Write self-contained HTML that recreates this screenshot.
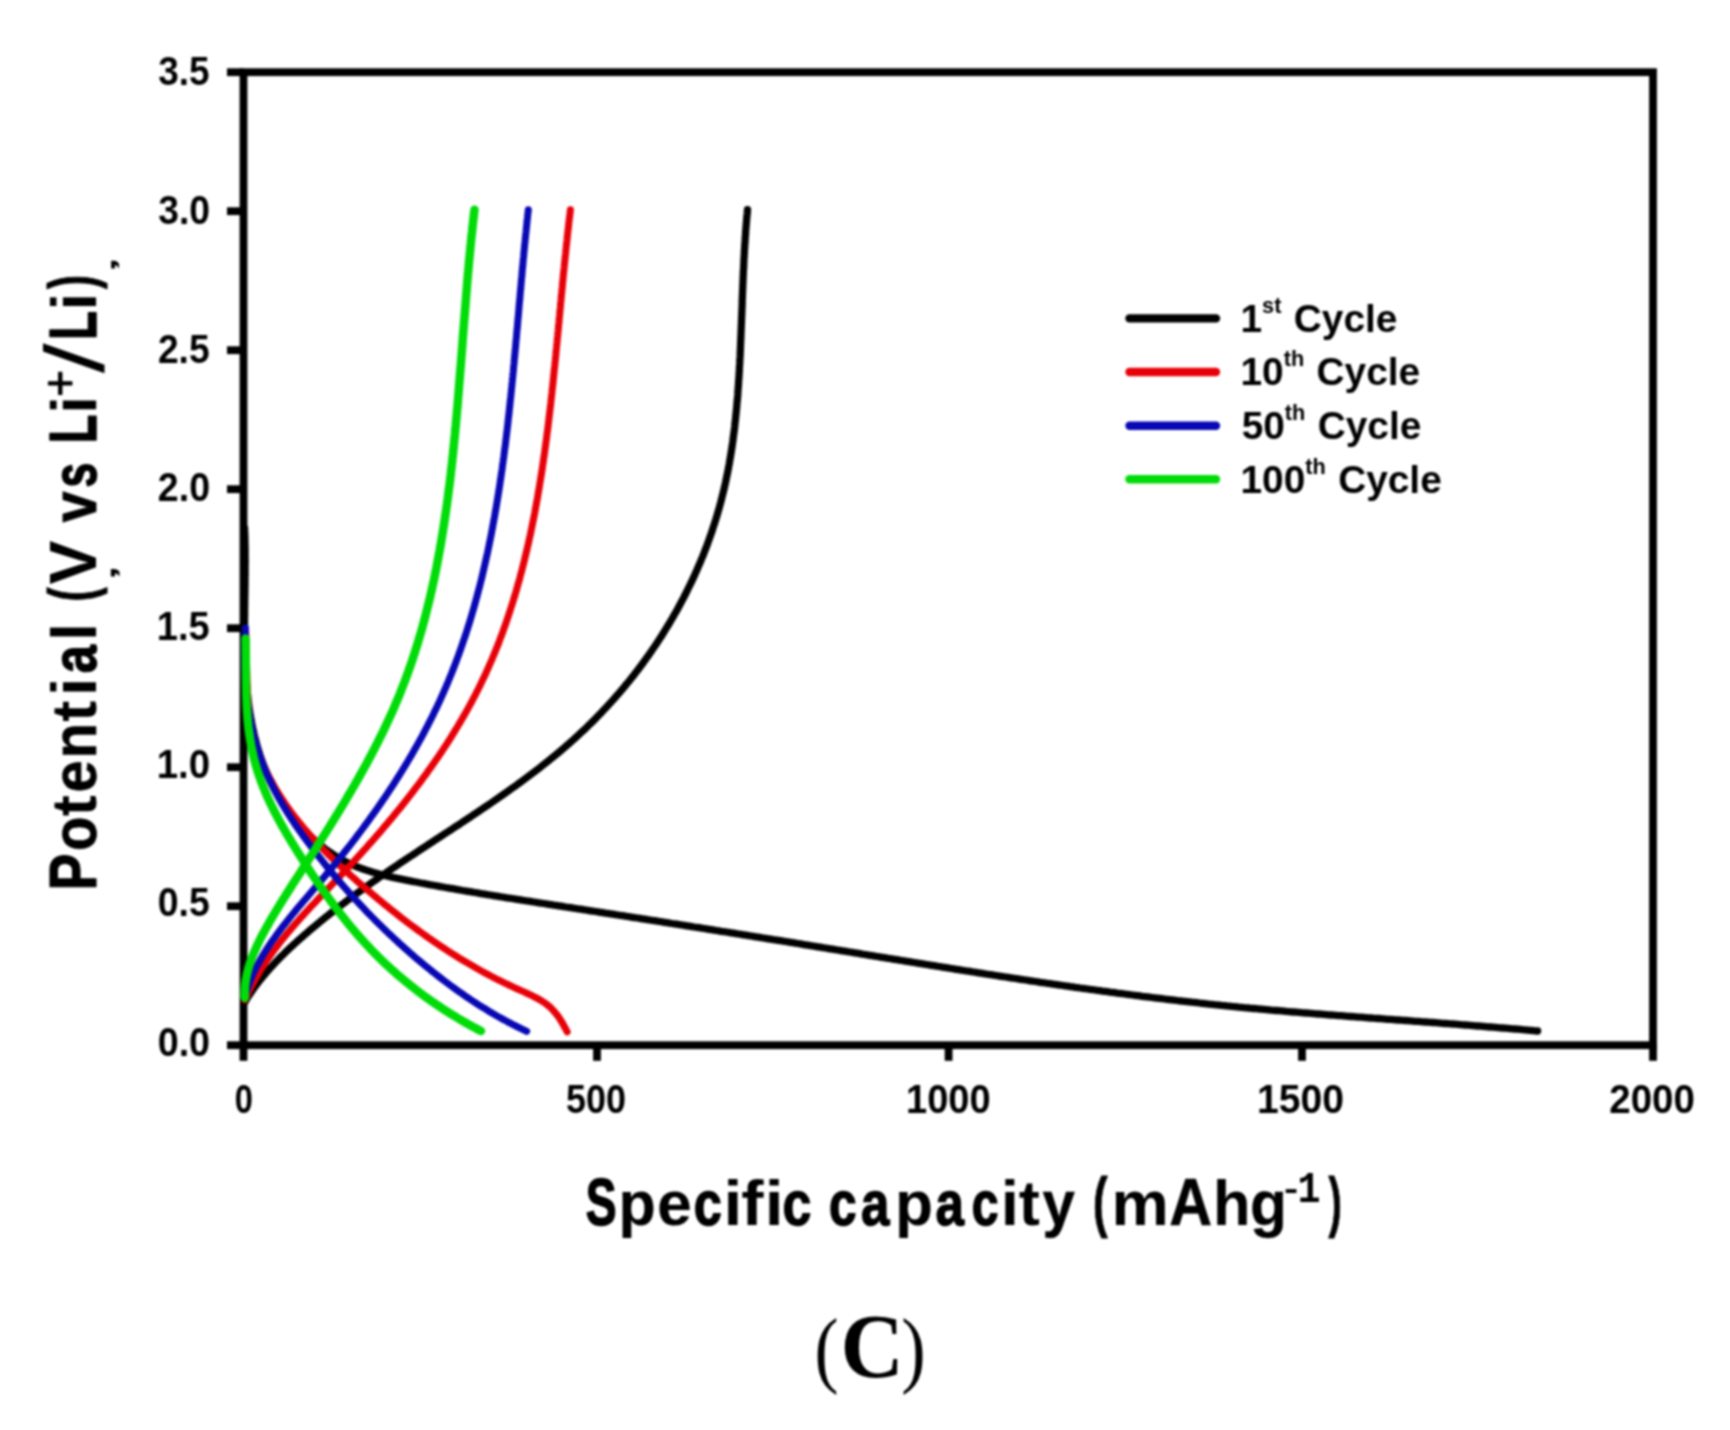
<!DOCTYPE html>
<html lang="en"><head><meta charset="utf-8"><title>Charge-discharge profiles (C)</title>
<style>html,body{margin:0;padding:0;background:#fff}body{width:1730px;height:1430px;overflow:hidden}svg{display:block}</style>
</head><body>
<svg width="1730" height="1430" viewBox="0 0 1730 1430">
<defs><filter id="soft" x="0" y="0" width="1730" height="1430" filterUnits="userSpaceOnUse" color-interpolation-filters="sRGB"><feGaussianBlur stdDeviation="0.8"/></filter></defs>
<rect width="1730" height="1430" fill="#fff"/>
<g filter="url(#soft)">
<rect width="1730" height="1430" fill="#fff"/>
<rect x="243.5" y="72.2" width="1409.5" height="973.0" fill="none" stroke="#000" stroke-width="7.8"/>
<line x1="227.0" y1="1045.2" x2="243.5" y2="1045.2" stroke="#000" stroke-width="7.8"/>
<line x1="227.0" y1="906.2" x2="243.5" y2="906.2" stroke="#000" stroke-width="7.8"/>
<line x1="227.0" y1="767.2" x2="243.5" y2="767.2" stroke="#000" stroke-width="7.8"/>
<line x1="227.0" y1="628.2" x2="243.5" y2="628.2" stroke="#000" stroke-width="7.8"/>
<line x1="227.0" y1="489.2" x2="243.5" y2="489.2" stroke="#000" stroke-width="7.8"/>
<line x1="227.0" y1="350.2" x2="243.5" y2="350.2" stroke="#000" stroke-width="7.8"/>
<line x1="227.0" y1="211.2" x2="243.5" y2="211.2" stroke="#000" stroke-width="7.8"/>
<line x1="227.0" y1="72.2" x2="243.5" y2="72.2" stroke="#000" stroke-width="7.8"/>
<line x1="243.5" y1="1045.2" x2="243.5" y2="1060.8" stroke="#000" stroke-width="7.8"/>
<line x1="597.0" y1="1045.2" x2="597.0" y2="1060.8" stroke="#000" stroke-width="7.8"/>
<line x1="948.6" y1="1045.2" x2="948.6" y2="1060.8" stroke="#000" stroke-width="7.8"/>
<line x1="1302.0" y1="1045.2" x2="1302.0" y2="1060.8" stroke="#000" stroke-width="7.8"/>
<line x1="1653.0" y1="1045.2" x2="1653.0" y2="1060.8" stroke="#000" stroke-width="7.8"/>
<g>
<polyline points="244.5,528.0 244.6,530.5 244.7,532.9 244.8,535.4 244.9,537.8 244.9,540.3 245.0,542.8 245.0,545.2 245.1,547.7 245.1,550.2 245.1,552.7 245.1,555.2 245.1,557.6 245.2,560.1 245.2,562.6 245.1,565.1 245.1,567.6 245.1,570.1 245.1,572.6 245.1,575.1 245.0,577.6 245.0,580.1 245.0,582.6 245.0,585.2 244.9,587.7 244.9,590.2 244.9,592.7 244.8,595.2 244.8,597.7 244.7,600.2 244.7,602.8 244.7,605.3 244.6,607.8 244.6,610.3 244.6,612.8 244.6,615.4 244.5,617.9 244.5,620.4 244.5,622.9 244.5,625.5 244.5,628.0 244.5,630.5 244.5,633.0 244.5,635.5 244.5,638.1 244.6,640.6 244.6,643.1 244.6,645.6 244.7,648.1 244.7,650.6 244.8,653.2 244.9,655.7 244.9,658.2 245.0,660.7 245.1,663.2 245.2,665.7 245.4,668.2 245.5,670.7 245.6,673.2 245.8,675.7 246.0,678.2 246.2,680.7 246.4,683.2 246.6,685.7 246.8,688.2 247.0,690.7 247.3,693.2 247.6,695.6 247.8,698.1 248.1,700.6 248.5,703.1 248.8,705.5 249.1,708.0 249.5,710.4 249.9,712.9 250.3,715.4 250.7,717.8 251.2,720.2 251.6,722.7 252.1,725.1 252.6,727.6 253.1,730.0 253.7,732.4 254.2,734.8 254.8,737.2 255.4,739.6 256.1,742.0 256.7,744.4 257.4,746.8 258.1,749.2 258.8,751.5 259.6,753.9 260.3,756.3 261.1,758.6 262.0,760.9 262.8,763.3 263.7,765.6 264.6,767.9 265.5,770.2 266.5,772.5 267.5,774.8 268.5,777.0 269.5,779.3 270.6,781.5 271.7,783.8 272.8,786.0 274.0,788.2 275.2,790.4 276.4,792.6 277.7,794.7 279.0,796.9 280.3,799.0 281.6,801.1 283.0,803.2 284.4,805.3 285.8,807.4 287.3,809.5 288.7,811.5 290.3,813.5 291.8,815.5 293.4,817.5 294.9,819.5 296.6,821.4 298.2,823.4 299.9,825.3 301.6,827.1 303.3,829.0 305.0,830.8 306.8,832.6 308.6,834.4 310.4,836.2 312.3,837.9 314.1,839.6 316.0,841.3 317.9,843.0 319.9,844.6 321.8,846.2 323.8,847.8 325.8,849.3 327.8,850.8 329.9,852.2 331.9,853.6 334.0,855.0 336.1,856.3 338.2,857.6 340.4,858.9 342.6,860.1 344.7,861.2 347.0,862.3 349.2,863.4 351.4,864.4 353.7,865.4 355.9,866.4 358.2,867.3 360.5,868.1 362.8,869.0 365.2,869.8 367.5,870.6 369.9,871.3 372.2,872.1 374.6,872.8 377.0,873.4 379.4,874.1 381.8,874.7 384.2,875.3 386.6,875.9 389.0,876.5 391.5,877.1 393.9,877.6 396.3,878.1 398.8,878.6 401.2,879.1 403.7,879.6 406.1,880.1 408.6,880.6 411.0,881.1 413.5,881.6 416.0,882.0 418.4,882.5 420.9,883.0 423.3,883.4 425.8,883.9 428.2,884.3 430.7,884.8 433.2,885.2 435.6,885.7 438.1,886.1 440.5,886.6 443.0,887.0 445.4,887.5 447.9,887.9 450.4,888.3 452.8,888.7 455.3,889.2 457.7,889.6 460.2,890.0 462.6,890.5 465.1,890.9 467.6,891.3 470.0,891.7 472.5,892.1 474.9,892.5 477.4,892.9 479.9,893.4 482.3,893.8 484.8,894.2 487.2,894.6 489.7,895.0 492.2,895.4 494.6,895.8 497.1,896.2 499.5,896.6 502.0,897.0 504.5,897.4 506.9,897.8 509.4,898.1 511.8,898.5 514.3,898.9 516.8,899.3 519.2,899.7 521.7,900.1 524.1,900.5 526.6,900.9 529.1,901.2 531.5,901.6 534.0,902.0 536.4,902.4 538.9,902.8 541.4,903.2 543.8,903.5 546.3,903.9 548.8,904.3 551.2,904.7 553.7,905.1 556.1,905.4 558.6,905.8 561.1,906.2 563.5,906.6 566.0,907.0 568.5,907.3 570.9,907.7 573.4,908.1 575.8,908.5 578.3,908.9 580.8,909.2 583.2,909.6 585.7,910.0 588.2,910.4 590.6,910.8 593.1,911.2 595.5,911.5 598.0,911.9 600.5,912.3 602.9,912.7 605.4,913.1 607.9,913.4 610.3,913.8 612.8,914.2 615.3,914.6 617.7,915.0 620.2,915.4 622.7,915.7 625.1,916.1 627.6,916.5 630.0,916.9 632.5,917.3 635.0,917.7 637.4,918.0 639.9,918.4 642.4,918.8 644.8,919.2 647.3,919.6 649.8,920.0 652.2,920.4 654.7,920.7 657.2,921.1 659.6,921.5 662.1,921.9 664.6,922.3 667.0,922.7 669.5,923.1 672.0,923.5 674.4,923.8 676.9,924.2 679.4,924.6 681.8,925.0 684.3,925.4 686.8,925.8 689.2,926.2 691.7,926.6 694.2,927.0 696.6,927.3 699.1,927.7 701.6,928.1 704.0,928.5 706.5,928.9 709.0,929.3 711.4,929.7 713.9,930.1 716.4,930.5 718.8,930.9 721.3,931.3 723.8,931.6 726.3,932.0 728.7,932.4 731.2,932.8 733.7,933.2 736.1,933.6 738.6,934.0 741.1,934.4 743.5,934.8 746.0,935.2 748.5,935.6 750.9,936.0 753.4,936.4 755.9,936.8 758.4,937.2 760.8,937.6 763.3,938.0 765.8,938.4 768.2,938.8 770.7,939.2 773.2,939.6 775.6,939.9 778.1,940.3 780.6,940.7 783.1,941.1 785.5,941.5 788.0,941.9 790.5,942.3 792.9,942.7 795.4,943.1 797.9,943.5 800.4,943.9 802.8,944.4 805.3,944.8 807.8,945.2 810.2,945.6 812.7,946.0 815.2,946.4 817.7,946.8 820.1,947.2 822.6,947.6 825.1,948.0 827.5,948.4 830.0,948.8 832.5,949.2 835.0,949.6 837.4,950.0 839.9,950.4 842.4,950.8 844.8,951.2 847.3,951.6 849.8,952.0 852.3,952.4 854.7,952.8 857.2,953.2 859.7,953.6 862.2,954.1 864.6,954.5 867.1,954.9 869.6,955.3 872.1,955.7 874.5,956.1 877.0,956.5 879.5,956.9 881.9,957.3 884.4,957.7 886.9,958.1 889.4,958.5 891.8,958.9 894.3,959.3 896.8,959.7 899.3,960.1 901.7,960.5 904.2,960.9 906.7,961.3 909.2,961.7 911.6,962.1 914.1,962.5 916.6,962.9 919.1,963.3 921.5,963.7 924.0,964.1 926.5,964.5 929.0,964.9 931.4,965.3 933.9,965.7 936.4,966.1 938.9,966.5 941.3,966.9 943.8,967.3 946.3,967.7 948.8,968.1 951.3,968.5 953.7,968.9 956.2,969.3 958.7,969.7 961.2,970.1 963.6,970.5 966.1,970.9 968.6,971.2 971.1,971.6 973.5,972.0 976.0,972.4 978.5,972.8 981.0,973.2 983.5,973.6 985.9,974.0 988.4,974.4 990.9,974.7 993.4,975.1 995.8,975.5 998.3,975.9 1000.8,976.3 1003.3,976.7 1005.8,977.0 1008.2,977.4 1010.7,977.8 1013.2,978.2 1015.7,978.5 1018.1,978.9 1020.6,979.3 1023.1,979.7 1025.6,980.0 1028.1,980.4 1030.5,980.8 1033.0,981.2 1035.5,981.5 1038.0,981.9 1040.5,982.3 1042.9,982.6 1045.4,983.0 1047.9,983.4 1050.4,983.7 1052.8,984.1 1055.3,984.4 1057.8,984.8 1060.3,985.2 1062.8,985.5 1065.2,985.9 1067.7,986.2 1070.2,986.6 1072.7,986.9 1075.2,987.3 1077.6,987.6 1080.1,988.0 1082.6,988.3 1085.1,988.7 1087.6,989.0 1090.0,989.4 1092.5,989.7 1095.0,990.0 1097.5,990.4 1100.0,990.7 1102.5,991.1 1104.9,991.4 1107.4,991.7 1109.9,992.1 1112.4,992.4 1114.9,992.7 1117.3,993.1 1119.8,993.4 1122.3,993.7 1124.8,994.0 1127.3,994.3 1129.7,994.7 1132.2,995.0 1134.7,995.3 1137.2,995.6 1139.7,995.9 1142.2,996.3 1144.6,996.6 1147.1,996.9 1149.6,997.2 1152.1,997.5 1154.6,997.8 1157.1,998.1 1159.5,998.4 1162.0,998.7 1164.5,999.0 1167.0,999.3 1169.5,999.6 1172.0,999.9 1174.4,1000.2 1176.9,1000.5 1179.4,1000.8 1181.9,1001.0 1184.4,1001.3 1186.9,1001.6 1189.3,1001.9 1191.8,1002.2 1194.3,1002.4 1196.8,1002.7 1199.3,1003.0 1201.8,1003.3 1204.2,1003.5 1206.7,1003.8 1209.2,1004.1 1211.7,1004.3 1214.2,1004.6 1216.7,1004.8 1219.1,1005.1 1221.6,1005.4 1224.1,1005.6 1226.6,1005.9 1229.1,1006.1 1231.6,1006.4 1234.0,1006.6 1236.5,1006.8 1239.0,1007.1 1241.5,1007.3 1244.0,1007.6 1246.5,1007.8 1249.0,1008.0 1251.4,1008.3 1253.9,1008.5 1256.4,1008.7 1258.9,1009.0 1261.4,1009.2 1263.9,1009.4 1266.4,1009.6 1268.8,1009.8 1271.3,1010.1 1273.8,1010.3 1276.3,1010.5 1278.8,1010.7 1281.3,1010.9 1283.8,1011.1 1286.2,1011.4 1288.7,1011.6 1291.2,1011.8 1293.7,1012.0 1296.2,1012.2 1298.7,1012.4 1301.2,1012.6 1303.7,1012.8 1306.1,1013.0 1308.6,1013.2 1311.1,1013.4 1313.6,1013.6 1316.1,1013.8 1318.6,1014.0 1321.1,1014.2 1323.5,1014.4 1326.0,1014.6 1328.5,1014.8 1331.0,1015.0 1333.5,1015.2 1336.0,1015.4 1338.5,1015.6 1341.0,1015.7 1343.4,1015.9 1345.9,1016.1 1348.4,1016.3 1350.9,1016.5 1353.4,1016.7 1355.9,1016.9 1358.4,1017.1 1360.9,1017.2 1363.4,1017.4 1365.8,1017.6 1368.3,1017.8 1370.8,1018.0 1373.3,1018.2 1375.8,1018.3 1378.3,1018.5 1380.8,1018.7 1383.3,1018.9 1385.7,1019.1 1388.2,1019.3 1390.7,1019.4 1393.2,1019.6 1395.7,1019.8 1398.2,1020.0 1400.7,1020.2 1403.2,1020.4 1405.7,1020.5 1408.2,1020.7 1410.6,1020.9 1413.1,1021.1 1415.6,1021.3 1418.1,1021.4 1420.6,1021.6 1423.1,1021.8 1425.6,1022.0 1428.1,1022.2 1430.6,1022.4 1433.0,1022.5 1435.5,1022.7 1438.0,1022.9 1440.5,1023.1 1443.0,1023.3 1445.5,1023.5 1448.0,1023.7 1450.5,1023.9 1453.0,1024.0 1455.5,1024.2 1458.0,1024.4 1460.4,1024.6 1462.9,1024.8 1465.4,1025.0 1467.9,1025.2 1470.4,1025.4 1472.9,1025.6 1475.4,1025.8 1477.9,1026.0 1480.4,1026.2 1482.9,1026.4 1485.4,1026.6 1487.8,1026.8 1490.3,1027.0 1492.8,1027.2 1495.3,1027.4 1497.8,1027.6 1500.3,1027.8 1502.8,1028.0 1505.3,1028.2 1507.8,1028.4 1510.3,1028.6 1512.8,1028.8 1515.3,1029.0 1517.7,1029.2 1520.2,1029.4 1522.7,1029.7 1525.2,1029.9 1527.7,1030.1 1530.2,1030.3 1532.7,1030.5 1535.2,1030.8 1537.6,1031.0" fill="none" stroke="#000" stroke-width="7.3" stroke-linecap="round" stroke-linejoin="round"/>
<polyline points="245.0,1001.9 246.2,999.9 247.4,997.8 248.7,995.8 250.0,993.9 251.3,991.9 252.7,989.9 254.1,987.9 255.5,986.0 257.0,984.1 258.4,982.2 259.9,980.2 261.5,978.3 263.0,976.5 264.6,974.6 266.2,972.7 267.8,970.9 269.4,969.0 271.0,967.2 272.7,965.4 274.4,963.6 276.1,961.8 277.8,960.0 279.5,958.2 281.3,956.4 283.1,954.7 284.8,952.9 286.6,951.2 288.4,949.5 290.2,947.7 292.1,946.0 293.9,944.3 295.8,942.6 297.6,941.0 299.5,939.3 301.4,937.6 303.3,936.0 305.2,934.3 307.1,932.7 309.0,931.0 310.9,929.4 312.8,927.8 314.8,926.2 316.7,924.6 318.6,923.0 320.6,921.4 322.5,919.8 324.5,918.2 326.4,916.7 328.4,915.1 330.3,913.5 332.3,912.0 334.3,910.5 336.3,908.9 338.2,907.4 340.2,905.9 342.2,904.4 344.2,902.9 346.2,901.3 348.2,899.8 350.2,898.4 352.2,896.9 354.2,895.4 356.2,893.9 358.2,892.4 360.2,891.0 362.3,889.5 364.3,888.0 366.3,886.6 368.4,885.1 370.4,883.7 372.4,882.2 374.5,880.8 376.5,879.4 378.6,877.9 380.6,876.5 382.7,875.1 384.7,873.7 386.8,872.3 388.9,870.8 390.9,869.4 393.0,868.0 395.1,866.6 397.2,865.2 399.2,863.8 401.3,862.4 403.4,861.0 405.5,859.6 407.6,858.2 409.7,856.8 411.8,855.5 413.9,854.1 416.0,852.7 418.1,851.3 420.2,849.9 422.3,848.5 424.4,847.1 426.5,845.8 428.6,844.4 430.7,843.0 432.8,841.6 434.9,840.2 437.0,838.9 439.1,837.5 441.2,836.1 443.3,834.7 445.4,833.3 447.5,832.0 449.7,830.6 451.8,829.2 453.9,827.8 456.0,826.4 458.1,825.1 460.2,823.7 462.3,822.3 464.4,820.9 466.5,819.5 468.6,818.1 470.7,816.7 472.8,815.3 474.9,813.9 477.0,812.5 479.1,811.1 481.1,809.7 483.2,808.3 485.3,806.9 487.4,805.5 489.5,804.1 491.6,802.6 493.6,801.2 495.7,799.8 497.8,798.4 499.8,796.9 501.9,795.5 503.9,794.0 506.0,792.6 508.0,791.1 510.1,789.7 512.1,788.2 514.2,786.8 516.2,785.3 518.2,783.8 520.3,782.4 522.3,780.9 524.3,779.4 526.3,777.9 528.3,776.4 530.3,774.9 532.3,773.4 534.3,771.9 536.3,770.3 538.3,768.8 540.3,767.3 542.2,765.7 544.2,764.2 546.1,762.6 548.1,761.1 550.0,759.5 552.0,757.9 553.9,756.4 555.8,754.8 557.8,753.2 559.7,751.6 561.6,750.0 563.5,748.4 565.4,746.7 567.2,745.1 569.1,743.5 571.0,741.8 572.9,740.1 574.7,738.5 576.5,736.8 578.4,735.1 580.2,733.4 582.0,731.7 583.9,730.0 585.7,728.3 587.5,726.6 589.2,724.8 591.0,723.1 592.8,721.3 594.5,719.6 596.3,717.8 598.0,716.0 599.8,714.2 601.5,712.4 603.2,710.6 604.9,708.8 606.6,707.0 608.3,705.1 610.0,703.3 611.7,701.4 613.3,699.6 615.0,697.7 616.6,695.8 618.3,694.0 619.9,692.1 621.5,690.2 623.1,688.3 624.7,686.4 626.3,684.4 627.9,682.5 629.5,680.6 631.0,678.6 632.6,676.7 634.1,674.7 635.6,672.7 637.2,670.8 638.7,668.8 640.2,666.8 641.7,664.8 643.1,662.8 644.6,660.8 646.1,658.7 647.5,656.7 649.0,654.7 650.4,652.6 651.8,650.6 653.2,648.5 654.6,646.5 656.0,644.4 657.4,642.3 658.8,640.2 660.1,638.1 661.5,636.1 662.8,633.9 664.1,631.8 665.4,629.7 666.7,627.6 668.0,625.5 669.3,623.3 670.6,621.2 671.9,619.0 673.1,616.9 674.3,614.7 675.6,612.6 676.8,610.4 678.0,608.2 679.2,606.0 680.4,603.8 681.5,601.6 682.7,599.4 683.9,597.2 685.0,595.0 686.1,592.8 687.2,590.6 688.3,588.3 689.4,586.1 690.5,583.9 691.6,581.6 692.6,579.4 693.7,577.1 694.7,574.9 695.7,572.6 696.8,570.3 697.7,568.0 698.7,565.8 699.7,563.5 700.7,561.2 701.6,558.9 702.6,556.6 703.5,554.3 704.4,552.0 705.3,549.6 706.2,547.3 707.1,545.0 707.9,542.7 708.8,540.3 709.6,538.0 710.4,535.7 711.3,533.3 712.1,531.0 712.8,528.6 713.6,526.2 714.4,523.9 715.1,521.5 715.9,519.1 716.6,516.8 717.3,514.4 718.0,512.0 718.7,509.6 719.4,507.2 720.0,504.8 720.7,502.4 721.3,500.0 721.9,497.6 722.5,495.2 723.1,492.8 723.7,490.4 724.3,488.0 724.8,485.6 725.4,483.1 725.9,480.7 726.4,478.3 726.9,475.8 727.4,473.4 727.9,471.0 728.4,468.5 728.8,466.1 729.3,463.6 729.7,461.2 730.1,458.7 730.5,456.3 730.9,453.8 731.3,451.4 731.7,448.9 732.1,446.4 732.4,444.0 732.8,441.5 733.1,439.0 733.4,436.5 733.7,434.1 734.1,431.6 734.4,429.1 734.7,426.6 734.9,424.1 735.2,421.6 735.5,419.2 735.7,416.7 736.0,414.2 736.2,411.7 736.5,409.2 736.7,406.7 736.9,404.2 737.1,401.7 737.4,399.2 737.6,396.7 737.8,394.2 737.9,391.7 738.1,389.2 738.3,386.6 738.5,384.1 738.6,381.6 738.8,379.1 739.0,376.6 739.1,374.1 739.3,371.6 739.4,369.1 739.5,366.5 739.7,364.0 739.8,361.5 739.9,359.0 740.1,356.5 740.2,353.9 740.3,351.4 740.4,348.9 740.5,346.4 740.6,343.9 740.7,341.3 740.8,338.8 740.9,336.3 741.0,333.8 741.1,331.3 741.2,328.7 741.3,326.2 741.4,323.7 741.5,321.2 741.6,318.6 741.7,316.1 741.8,313.6 741.9,311.1 742.0,308.6 742.1,306.0 742.2,303.5 742.2,301.0 742.3,298.5 742.4,296.0 742.5,293.5 742.6,290.9 742.7,288.4 742.8,285.9 742.9,283.4 743.0,280.9 743.1,278.4 743.2,275.9 743.3,273.4 743.4,270.9 743.6,268.4 743.7,265.8 743.8,263.3 743.9,260.8 744.0,258.3 744.2,255.8 744.3,253.3 744.4,250.8 744.6,248.4 744.7,245.9 744.9,243.4 745.1,240.9 745.2,238.4 745.4,235.9 745.6,233.4 745.7,230.9 745.9,228.5 746.1,226.0 746.3,223.5 746.5,221.0 746.7,218.6 746.9,216.1 747.2,213.6 747.4,211.2 747.5,209.7" fill="none" stroke="#000" stroke-width="7.3" stroke-linecap="round" stroke-linejoin="round"/>
<polyline points="245.5,630.0 245.6,632.5 245.8,635.0 245.9,637.5 246.0,640.0 246.1,642.5 246.1,645.0 246.2,647.5 246.3,650.0 246.3,652.6 246.4,655.1 246.4,657.6 246.5,660.1 246.5,662.6 246.6,665.1 246.6,667.7 246.7,670.2 246.8,672.7 246.8,675.2 246.9,677.7 247.0,680.2 247.1,682.8 247.2,685.3 247.3,687.8 247.4,690.3 247.5,692.8 247.7,695.3 247.8,697.8 248.0,700.3 248.2,702.8 248.5,705.2 248.7,707.7 249.0,710.2 249.3,712.7 249.6,715.1 249.9,717.6 250.3,720.0 250.7,722.5 251.1,724.9 251.5,727.4 252.0,729.8 252.6,732.2 253.1,734.6 253.7,737.0 254.3,739.4 255.0,741.8 255.7,744.2 256.4,746.5 257.2,748.9 258.0,751.3 258.8,753.6 259.7,755.9 260.6,758.3 261.5,760.6 262.5,762.9 263.5,765.2 264.5,767.4 265.5,769.7 266.6,771.9 267.7,774.2 268.8,776.4 270.0,778.6 271.2,780.8 272.4,783.0 273.6,785.2 274.8,787.4 276.1,789.5 277.4,791.7 278.7,793.8 280.0,795.9 281.4,798.0 282.7,800.1 284.1,802.1 285.5,804.2 286.9,806.2 288.4,808.3 289.8,810.3 291.3,812.3 292.8,814.3 294.3,816.3 295.8,818.2 297.4,820.2 298.9,822.2 300.5,824.1 302.1,826.0 303.7,827.9 305.3,829.8 307.0,831.7 308.6,833.6 310.3,835.5 312.0,837.3 313.6,839.2 315.3,841.0 317.0,842.9 318.8,844.7 320.5,846.5 322.3,848.3 324.0,850.1 325.8,851.9 327.5,853.7 329.3,855.4 331.1,857.2 332.9,859.0 334.7,860.7 336.6,862.4 338.4,864.2 340.2,865.9 342.1,867.6 343.9,869.3 345.8,871.0 347.6,872.7 349.5,874.4 351.4,876.1 353.3,877.7 355.2,879.4 357.0,881.1 358.9,882.7 360.8,884.4 362.7,886.0 364.6,887.6 366.5,889.3 368.5,890.9 370.4,892.5 372.3,894.1 374.2,895.7 376.1,897.3 378.0,898.9 380.0,900.5 381.9,902.1 383.8,903.7 385.7,905.3 387.7,906.8 389.6,908.4 391.6,910.0 393.5,911.5 395.5,913.1 397.4,914.6 399.4,916.1 401.3,917.7 403.3,919.2 405.3,920.7 407.2,922.2 409.2,923.7 411.2,925.2 413.2,926.7 415.2,928.1 417.2,929.6 419.2,931.1 421.2,932.5 423.2,934.0 425.2,935.4 427.2,936.9 429.3,938.3 431.3,939.7 433.3,941.1 435.4,942.5 437.4,943.9 439.5,945.3 441.5,946.7 443.6,948.0 445.7,949.4 447.8,950.8 449.8,952.1 451.9,953.4 454.0,954.8 456.1,956.1 458.2,957.4 460.4,958.7 462.5,960.0 464.6,961.3 466.8,962.6 468.9,963.8 471.1,965.1 473.2,966.3 475.4,967.6 477.6,968.8 479.7,970.0 481.9,971.3 484.1,972.5 486.3,973.6 488.6,974.8 490.8,976.0 493.0,977.2 495.2,978.3 497.5,979.5 499.8,980.6 502.0,981.7 504.3,982.8 506.6,983.9 508.9,985.0 511.2,986.1 513.5,987.2 515.8,988.3 518.1,989.3 520.5,990.4 522.8,991.4 525.1,992.4 527.4,993.5 529.7,994.6 532.0,995.7 534.2,996.8 536.4,997.9 538.6,999.1 540.7,1000.3 542.7,1001.6 544.7,1002.9 546.6,1004.3 548.4,1005.8 550.2,1007.3 551.8,1008.9 553.4,1010.6 555.0,1012.4 556.5,1014.2 557.9,1016.1 559.3,1018.1 560.7,1020.2 562.0,1022.4 563.3,1024.6 564.6,1027.0 565.9,1029.4 567.2,1031.8" fill="none" stroke="#e80008" stroke-width="7.0" stroke-linecap="round" stroke-linejoin="round"/>
<polyline points="244.9,999.9 245.9,997.6 247.0,995.3 248.0,993.0 249.1,990.7 250.3,988.4 251.4,986.2 252.6,984.0 253.8,981.8 255.0,979.6 256.2,977.4 257.4,975.3 258.7,973.1 260.0,971.0 261.3,968.9 262.6,966.8 263.9,964.7 265.3,962.6 266.7,960.6 268.1,958.6 269.5,956.5 270.9,954.5 272.3,952.5 273.8,950.5 275.3,948.5 276.8,946.6 278.3,944.6 279.8,942.7 281.3,940.7 282.8,938.8 284.4,936.9 285.9,935.0 287.5,933.1 289.1,931.2 290.7,929.3 292.3,927.4 293.9,925.6 295.5,923.7 297.2,921.9 298.8,920.0 300.4,918.2 302.1,916.3 303.8,914.5 305.4,912.7 307.1,910.9 308.8,909.0 310.5,907.2 312.2,905.4 313.9,903.6 315.6,901.8 317.3,900.0 319.0,898.2 320.7,896.4 322.4,894.6 324.1,892.8 325.9,891.0 327.6,889.2 329.3,887.4 331.0,885.6 332.8,883.7 334.5,881.9 336.2,880.1 337.9,878.3 339.7,876.5 341.4,874.7 343.1,872.9 344.8,871.0 346.5,869.2 348.2,867.4 349.9,865.6 351.7,863.7 353.4,861.9 355.1,860.0 356.8,858.2 358.4,856.3 360.1,854.5 361.8,852.6 363.5,850.7 365.2,848.9 366.9,847.0 368.5,845.1 370.2,843.2 371.9,841.3 373.5,839.5 375.2,837.6 376.8,835.7 378.5,833.8 380.1,831.9 381.8,829.9 383.4,828.0 385.0,826.1 386.7,824.2 388.3,822.3 389.9,820.3 391.5,818.4 393.1,816.5 394.7,814.5 396.3,812.6 397.9,810.6 399.5,808.7 401.1,806.7 402.7,804.7 404.2,802.8 405.8,800.8 407.3,798.8 408.9,796.9 410.4,794.9 412.0,792.9 413.5,790.9 415.0,788.9 416.5,786.9 418.1,784.9 419.6,782.9 421.1,780.9 422.6,778.8 424.0,776.8 425.5,774.8 427.0,772.8 428.4,770.7 429.9,768.7 431.4,766.6 432.8,764.6 434.2,762.5 435.6,760.5 437.1,758.4 438.5,756.4 439.9,754.3 441.3,752.2 442.7,750.1 444.0,748.0 445.4,746.0 446.8,743.9 448.1,741.8 449.5,739.7 450.8,737.6 452.1,735.4 453.4,733.3 454.7,731.2 456.0,729.1 457.3,727.0 458.6,724.8 459.9,722.7 461.1,720.5 462.4,718.4 463.6,716.2 464.9,714.1 466.1,711.9 467.3,709.8 468.5,707.6 469.7,705.4 470.9,703.2 472.1,701.0 473.2,698.8 474.4,696.7 475.5,694.5 476.6,692.2 477.8,690.0 478.9,687.8 480.0,685.6 481.0,683.4 482.1,681.1 483.2,678.9 484.2,676.7 485.3,674.4 486.3,672.2 487.3,669.9 488.3,667.7 489.3,665.4 490.3,663.1 491.3,660.9 492.3,658.6 493.2,656.3 494.2,654.0 495.1,651.8 496.0,649.5 497.0,647.2 497.9,644.9 498.8,642.6 499.6,640.3 500.5,637.9 501.4,635.6 502.3,633.3 503.1,631.0 503.9,628.6 504.8,626.3 505.6,624.0 506.4,621.6 507.2,619.3 508.0,616.9 508.8,614.6 509.6,612.2 510.3,609.9 511.1,607.5 511.8,605.2 512.6,602.8 513.3,600.4 514.0,598.0 514.8,595.7 515.5,593.3 516.2,590.9 516.9,588.5 517.5,586.1 518.2,583.7 518.9,581.3 519.6,578.9 520.2,576.5 520.8,574.1 521.5,571.7 522.1,569.3 522.7,566.9 523.3,564.5 524.0,562.0 524.6,559.6 525.1,557.2 525.7,554.8 526.3,552.3 526.9,549.9 527.4,547.5 528.0,545.0 528.6,542.6 529.1,540.1 529.6,537.7 530.2,535.2 530.7,532.8 531.2,530.3 531.7,527.9 532.2,525.4 532.7,523.0 533.2,520.5 533.7,518.0 534.2,515.6 534.7,513.1 535.1,510.6 535.6,508.2 536.0,505.7 536.5,503.2 536.9,500.7 537.4,498.2 537.8,495.8 538.2,493.3 538.7,490.8 539.1,488.3 539.5,485.8 539.9,483.3 540.3,480.8 540.7,478.4 541.1,475.9 541.5,473.4 541.9,470.9 542.3,468.4 542.6,465.9 543.0,463.4 543.4,460.9 543.7,458.4 544.1,455.9 544.5,453.4 544.8,450.9 545.1,448.4 545.5,445.9 545.8,443.3 546.2,440.8 546.5,438.3 546.8,435.8 547.1,433.3 547.5,430.8 547.8,428.3 548.1,425.8 548.4,423.3 548.7,420.8 549.0,418.2 549.3,415.7 549.6,413.2 549.9,410.7 550.2,408.2 550.5,405.7 550.8,403.1 551.0,400.6 551.3,398.1 551.6,395.6 551.9,393.1 552.1,390.6 552.4,388.1 552.7,385.5 553.0,383.0 553.2,380.5 553.5,378.0 553.7,375.5 554.0,373.0 554.2,370.4 554.5,367.9 554.8,365.4 555.0,362.9 555.3,360.4 555.5,357.9 555.8,355.4 556.0,352.9 556.2,350.3 556.5,347.8 556.7,345.3 557.0,342.8 557.2,340.3 557.4,337.8 557.7,335.3 557.9,332.8 558.2,330.3 558.4,327.8 558.6,325.3 558.9,322.8 559.1,320.3 559.3,317.8 559.6,315.3 559.8,312.8 560.0,310.3 560.3,307.8 560.5,305.3 560.7,302.8 561.0,300.3 561.2,297.8 561.4,295.3 561.7,292.9 561.9,290.4 562.2,287.9 562.4,285.4 562.6,282.9 562.9,280.5 563.1,278.0 563.3,275.5 563.6,273.0 563.8,270.6 564.1,268.1 564.3,265.6 564.6,263.2 564.8,260.7 565.1,258.3 565.3,255.8 565.6,253.3 565.8,250.9 566.1,248.4 566.3,246.0 566.6,243.5 566.9,241.1 567.1,238.7 567.4,236.2 567.6,233.8 567.9,231.3 568.2,228.9 568.5,226.5 568.7,224.1 569.0,221.6 569.3,219.2 569.6,216.8 569.9,214.4 570.2,212.0 570.4,209.7" fill="none" stroke="#e80008" stroke-width="7.0" stroke-linecap="round" stroke-linejoin="round"/>
<polyline points="245.5,628.0 245.4,630.6 245.3,633.1 245.1,635.7 245.0,638.3 244.9,640.9 244.9,643.5 244.8,646.0 244.8,648.6 244.7,651.1 244.7,653.7 244.7,656.3 244.7,658.8 244.7,661.3 244.8,663.9 244.8,666.4 244.9,669.0 245.0,671.5 245.1,674.0 245.2,676.5 245.4,679.0 245.5,681.5 245.7,684.0 245.9,686.5 246.1,689.0 246.3,691.5 246.6,694.0 246.9,696.5 247.1,698.9 247.4,701.4 247.8,703.9 248.1,706.3 248.5,708.8 248.8,711.2 249.2,713.6 249.7,716.1 250.1,718.5 250.6,720.9 251.0,723.3 251.5,725.7 252.0,728.1 252.6,730.5 253.2,732.9 253.7,735.3 254.3,737.7 255.0,740.0 255.6,742.4 256.3,744.8 257.0,747.1 257.7,749.4 258.4,751.8 259.2,754.1 260.0,756.4 260.8,758.7 261.6,761.0 262.5,763.3 263.4,765.6 264.3,767.9 265.2,770.2 266.2,772.4 267.1,774.7 268.1,776.9 269.2,779.2 270.2,781.4 271.3,783.6 272.4,785.8 273.5,788.0 274.6,790.2 275.8,792.4 276.9,794.6 278.1,796.8 279.3,799.0 280.6,801.1 281.8,803.3 283.1,805.4 284.4,807.6 285.7,809.7 287.0,811.9 288.3,814.0 289.7,816.1 291.0,818.2 292.4,820.3 293.8,822.4 295.2,824.5 296.6,826.6 298.1,828.6 299.5,830.7 301.0,832.8 302.4,834.8 303.9,836.9 305.4,838.9 306.9,840.9 308.4,843.0 309.9,845.0 311.4,847.0 313.0,849.0 314.5,851.0 316.1,853.0 317.6,855.0 319.2,857.0 320.7,858.9 322.3,860.9 323.9,862.9 325.5,864.8 327.0,866.8 328.6,868.7 330.2,870.7 331.8,872.6 333.4,874.5 335.1,876.5 336.7,878.4 338.3,880.3 339.9,882.2 341.6,884.1 343.2,886.0 344.9,887.8 346.5,889.7 348.2,891.6 349.9,893.5 351.6,895.3 353.2,897.2 354.9,899.0 356.6,900.9 358.3,902.7 360.0,904.5 361.7,906.3 363.5,908.1 365.2,910.0 366.9,911.8 368.6,913.6 370.4,915.3 372.1,917.1 373.9,918.9 375.6,920.7 377.4,922.4 379.2,924.2 381.0,925.9 382.8,927.7 384.5,929.4 386.3,931.1 388.1,932.9 390.0,934.6 391.8,936.3 393.6,938.0 395.4,939.7 397.3,941.4 399.1,943.1 400.9,944.8 402.8,946.4 404.7,948.1 406.5,949.8 408.4,951.4 410.3,953.1 412.2,954.7 414.0,956.3 415.9,958.0 417.8,959.6 419.8,961.2 421.7,962.8 423.6,964.4 425.5,966.0 427.5,967.6 429.4,969.1 431.4,970.7 433.3,972.3 435.3,973.8 437.2,975.4 439.2,976.9 441.2,978.4 443.2,980.0 445.2,981.5 447.2,983.0 449.2,984.5 451.2,986.0 453.2,987.4 455.2,988.9 457.3,990.4 459.3,991.8 461.3,993.2 463.4,994.7 465.4,996.1 467.5,997.5 469.6,998.9 471.7,1000.3 473.7,1001.6 475.8,1003.0 477.9,1004.4 480.0,1005.7 482.1,1007.0 484.3,1008.3 486.4,1009.6 488.5,1010.9 490.6,1012.2 492.8,1013.5 494.9,1014.7 497.1,1016.0 499.3,1017.2 501.4,1018.4 503.6,1019.6 505.8,1020.8 508.0,1022.0 510.2,1023.1 512.4,1024.3 514.6,1025.4 516.8,1026.5 519.0,1027.6 521.2,1028.7 523.5,1029.8 525.7,1030.8 526.7,1031.3" fill="none" stroke="#0808b4" stroke-width="7.0" stroke-linecap="round" stroke-linejoin="round"/>
<polyline points="244.9,997.9 245.5,995.6 246.1,993.3 246.8,991.0 247.5,988.7 248.2,986.4 249.0,984.2 249.8,982.0 250.7,979.7 251.6,977.5 252.6,975.3 253.5,973.2 254.5,971.0 255.6,968.8 256.7,966.7 257.8,964.5 258.9,962.4 260.1,960.3 261.3,958.2 262.5,956.1 263.7,954.0 265.0,951.9 266.3,949.9 267.6,947.8 269.0,945.8 270.3,943.7 271.7,941.7 273.2,939.7 274.6,937.7 276.0,935.7 277.5,933.7 279.0,931.7 280.5,929.7 282.0,927.7 283.5,925.7 285.1,923.7 286.6,921.8 288.2,919.8 289.7,917.8 291.3,915.9 292.9,913.9 294.5,912.0 296.1,910.0 297.7,908.1 299.4,906.1 301.0,904.2 302.6,902.3 304.3,900.3 305.9,898.4 307.6,896.4 309.2,894.5 310.9,892.6 312.5,890.6 314.2,888.7 315.8,886.8 317.5,884.8 319.1,882.9 320.8,881.0 322.4,879.0 324.1,877.1 325.7,875.1 327.4,873.2 329.0,871.2 330.6,869.3 332.2,867.3 333.9,865.4 335.5,863.4 337.1,861.4 338.7,859.4 340.3,857.5 341.9,855.5 343.4,853.5 345.0,851.5 346.6,849.5 348.2,847.6 349.7,845.6 351.3,843.6 352.8,841.6 354.4,839.6 355.9,837.6 357.4,835.5 359.0,833.5 360.5,831.5 362.0,829.5 363.5,827.5 365.0,825.4 366.5,823.4 368.0,821.4 369.5,819.3 370.9,817.3 372.4,815.2 373.9,813.2 375.3,811.1 376.8,809.1 378.2,807.0 379.6,805.0 381.1,802.9 382.5,800.8 383.9,798.8 385.3,796.7 386.7,794.6 388.1,792.5 389.5,790.4 390.9,788.3 392.2,786.3 393.6,784.2 394.9,782.1 396.3,779.9 397.6,777.8 399.0,775.7 400.3,773.6 401.6,771.5 402.9,769.4 404.2,767.2 405.5,765.1 406.8,763.0 408.1,760.8 409.3,758.7 410.6,756.6 411.9,754.4 413.1,752.2 414.3,750.1 415.6,747.9 416.8,745.8 418.0,743.6 419.2,741.4 420.4,739.3 421.6,737.1 422.8,734.9 423.9,732.7 425.1,730.5 426.2,728.3 427.4,726.1 428.5,723.9 429.6,721.7 430.8,719.5 431.9,717.3 433.0,715.1 434.0,712.8 435.1,710.6 436.2,708.4 437.3,706.2 438.3,703.9 439.4,701.7 440.4,699.4 441.4,697.2 442.4,694.9 443.4,692.7 444.4,690.4 445.4,688.1 446.4,685.9 447.3,683.6 448.3,681.3 449.2,679.0 450.2,676.7 451.1,674.5 452.0,672.2 452.9,669.9 453.8,667.6 454.7,665.3 455.6,662.9 456.5,660.6 457.3,658.3 458.2,656.0 459.0,653.7 459.9,651.3 460.7,649.0 461.5,646.7 462.3,644.3 463.1,642.0 463.9,639.7 464.7,637.3 465.5,635.0 466.3,632.6 467.0,630.3 467.8,627.9 468.5,625.5 469.3,623.2 470.0,620.8 470.7,618.4 471.4,616.0 472.1,613.7 472.8,611.3 473.5,608.9 474.2,606.5 474.9,604.1 475.5,601.7 476.2,599.3 476.8,596.9 477.5,594.5 478.1,592.1 478.7,589.7 479.4,587.3 480.0,584.9 480.6,582.5 481.2,580.1 481.8,577.6 482.4,575.2 482.9,572.8 483.5,570.4 484.1,567.9 484.6,565.5 485.2,563.1 485.7,560.6 486.3,558.2 486.8,555.7 487.4,553.3 487.9,550.9 488.4,548.4 488.9,546.0 489.4,543.5 489.9,541.0 490.4,538.6 490.9,536.1 491.4,533.7 491.8,531.2 492.3,528.8 492.8,526.3 493.2,523.8 493.7,521.3 494.1,518.9 494.6,516.4 495.0,513.9 495.4,511.5 495.9,509.0 496.3,506.5 496.7,504.0 497.1,501.5 497.5,499.1 497.9,496.6 498.3,494.1 498.7,491.6 499.1,489.1 499.5,486.6 499.9,484.1 500.2,481.6 500.6,479.1 501.0,476.6 501.3,474.2 501.7,471.7 502.1,469.2 502.4,466.7 502.7,464.2 503.1,461.7 503.4,459.2 503.8,456.7 504.1,454.2 504.4,451.6 504.7,449.1 505.1,446.6 505.4,444.1 505.7,441.6 506.0,439.1 506.3,436.6 506.6,434.1 506.9,431.6 507.2,429.1 507.5,426.6 507.8,424.1 508.1,421.5 508.3,419.0 508.6,416.5 508.9,414.0 509.2,411.5 509.4,409.0 509.7,406.5 510.0,404.0 510.2,401.4 510.5,398.9 510.8,396.4 511.0,393.9 511.3,391.4 511.5,388.9 511.8,386.4 512.0,383.9 512.3,381.3 512.5,378.8 512.8,376.3 513.0,373.8 513.3,371.3 513.5,368.8 513.7,366.3 514.0,363.8 514.2,361.2 514.4,358.7 514.7,356.2 514.9,353.7 515.1,351.2 515.4,348.7 515.6,346.2 515.8,343.7 516.0,341.2 516.3,338.7 516.5,336.2 516.7,333.7 516.9,331.2 517.2,328.7 517.4,326.2 517.6,323.7 517.8,321.2 518.0,318.7 518.3,316.2 518.5,313.7 518.7,311.2 518.9,308.7 519.1,306.2 519.3,303.7 519.6,301.2 519.8,298.7 520.0,296.2 520.2,293.7 520.4,291.2 520.7,288.8 520.9,286.3 521.1,283.8 521.3,281.3 521.5,278.8 521.8,276.4 522.0,273.9 522.2,271.4 522.4,268.9 522.7,266.5 522.9,264.0 523.1,261.5 523.3,259.1 523.6,256.6 523.8,254.1 524.0,251.7 524.3,249.2 524.5,246.8 524.7,244.3 525.0,241.9 525.2,239.4 525.5,237.0 525.7,234.5 526.0,232.1 526.2,229.6 526.5,227.2 526.7,224.7 527.0,222.3 527.2,219.9 527.5,217.4 527.7,215.0 528.0,212.6 528.3,210.2 528.3,209.7" fill="none" stroke="#0808b4" stroke-width="7.0" stroke-linecap="round" stroke-linejoin="round"/>
<polyline points="245.5,638.5 245.6,641.1 245.6,643.6 245.7,646.2 245.7,648.8 245.7,651.3 245.7,653.9 245.8,656.4 245.8,659.0 245.8,661.5 245.8,664.1 245.8,666.6 245.9,669.2 245.9,671.7 245.9,674.2 245.9,676.8 245.9,679.3 246.0,681.8 246.0,684.3 246.1,686.8 246.1,689.3 246.2,691.8 246.2,694.3 246.3,696.8 246.4,699.3 246.5,701.8 246.6,704.3 246.7,706.8 246.9,709.3 247.0,711.7 247.2,714.2 247.4,716.6 247.6,719.1 247.8,721.6 248.1,724.0 248.3,726.4 248.6,728.9 248.9,731.3 249.3,733.7 249.6,736.2 250.0,738.6 250.4,741.0 250.8,743.4 251.2,745.8 251.7,748.2 252.2,750.6 252.7,753.0 253.3,755.4 253.8,757.7 254.4,760.1 255.0,762.5 255.7,764.8 256.4,767.2 257.1,769.5 257.8,771.9 258.6,774.2 259.4,776.6 260.2,778.9 261.0,781.2 261.9,783.5 262.8,785.8 263.7,788.1 264.7,790.4 265.6,792.7 266.6,795.0 267.6,797.3 268.7,799.6 269.7,801.9 270.8,804.1 271.9,806.4 273.0,808.6 274.1,810.9 275.3,813.1 276.5,815.4 277.6,817.6 278.8,819.8 280.0,822.0 281.3,824.3 282.5,826.5 283.8,828.7 285.0,830.9 286.3,833.1 287.6,835.3 288.9,837.5 290.2,839.6 291.5,841.8 292.8,844.0 294.1,846.1 295.5,848.3 296.8,850.4 298.2,852.6 299.5,854.7 300.9,856.9 302.2,859.0 303.6,861.1 304.9,863.2 306.3,865.4 307.7,867.5 309.0,869.6 310.4,871.7 311.8,873.8 313.2,875.9 314.6,877.9 316.0,880.0 317.4,882.1 318.8,884.1 320.2,886.2 321.6,888.2 323.1,890.3 324.5,892.3 326.0,894.3 327.4,896.4 328.9,898.4 330.3,900.4 331.8,902.4 333.3,904.4 334.7,906.4 336.2,908.3 337.7,910.3 339.2,912.3 340.8,914.2 342.3,916.2 343.8,918.1 345.4,920.0 346.9,922.0 348.5,923.9 350.0,925.8 351.6,927.7 353.2,929.6 354.8,931.5 356.4,933.3 358.0,935.2 359.7,937.1 361.3,938.9 363.0,940.7 364.6,942.6 366.3,944.4 368.0,946.2 369.7,948.0 371.4,949.8 373.1,951.6 374.8,953.4 376.6,955.1 378.4,956.9 380.1,958.6 381.9,960.4 383.7,962.1 385.5,963.8 387.3,965.5 389.2,967.2 391.0,968.9 392.9,970.5 394.8,972.2 396.6,973.9 398.5,975.5 400.4,977.1 402.4,978.7 404.3,980.4 406.2,981.9 408.2,983.5 410.1,985.1 412.1,986.7 414.1,988.2 416.1,989.8 418.1,991.3 420.1,992.8 422.1,994.3 424.1,995.8 426.1,997.3 428.2,998.8 430.2,1000.2 432.3,1001.7 434.4,1003.1 436.4,1004.5 438.5,1005.9 440.6,1007.3 442.7,1008.7 444.8,1010.1 446.9,1011.4 449.1,1012.8 451.2,1014.1 453.3,1015.4 455.5,1016.7 457.6,1018.0 459.8,1019.3 461.9,1020.5 464.1,1021.8 466.2,1023.0 468.4,1024.3 470.6,1025.5 472.8,1026.7 475.0,1027.8 477.1,1029.0 479.3,1030.2 481.0,1031.0" fill="none" stroke="#00dc08" stroke-width="8.5" stroke-linecap="round" stroke-linejoin="round"/>
<polyline points="244.8,997.9 244.7,995.5 244.7,993.1 244.8,990.8 244.9,988.4 245.0,986.1 245.3,983.8 245.6,981.4 245.9,979.1 246.4,976.8 246.8,974.5 247.4,972.2 248.0,969.9 248.6,967.6 249.3,965.3 250.0,963.0 250.8,960.8 251.6,958.5 252.5,956.2 253.4,954.0 254.3,951.7 255.3,949.5 256.3,947.2 257.3,945.0 258.4,942.8 259.5,940.5 260.6,938.3 261.7,936.1 262.9,933.9 264.1,931.7 265.3,929.5 266.5,927.3 267.8,925.1 269.0,922.9 270.3,920.7 271.5,918.5 272.8,916.3 274.1,914.1 275.4,912.0 276.7,909.8 278.1,907.6 279.4,905.4 280.7,903.3 282.1,901.1 283.4,898.9 284.8,896.8 286.1,894.6 287.5,892.4 288.9,890.3 290.3,888.1 291.6,886.0 293.0,883.8 294.4,881.7 295.8,879.5 297.2,877.4 298.6,875.2 300.0,873.1 301.4,870.9 302.7,868.8 304.1,866.6 305.5,864.5 306.9,862.3 308.3,860.2 309.6,858.0 311.0,855.9 312.4,853.8 313.8,851.6 315.1,849.5 316.5,847.3 317.9,845.2 319.2,843.0 320.6,840.9 321.9,838.7 323.3,836.6 324.6,834.4 326.0,832.3 327.3,830.1 328.7,828.0 330.0,825.8 331.4,823.7 332.7,821.5 334.0,819.4 335.3,817.2 336.7,815.1 338.0,812.9 339.3,810.8 340.6,808.6 341.9,806.5 343.2,804.3 344.5,802.1 345.8,800.0 347.1,797.8 348.3,795.6 349.6,793.5 350.9,791.3 352.2,789.1 353.4,787.0 354.7,784.8 355.9,782.6 357.2,780.5 358.4,778.3 359.6,776.1 360.8,773.9 362.1,771.7 363.3,769.5 364.5,767.4 365.7,765.2 366.9,763.0 368.0,760.8 369.2,758.6 370.4,756.4 371.6,754.2 372.7,752.0 373.9,749.8 375.0,747.6 376.1,745.4 377.3,743.2 378.4,740.9 379.5,738.7 380.6,736.5 381.7,734.3 382.8,732.1 383.9,729.8 384.9,727.6 386.0,725.4 387.0,723.1 388.1,720.9 389.1,718.6 390.2,716.4 391.2,714.1 392.2,711.9 393.2,709.6 394.2,707.4 395.1,705.1 396.1,702.8 397.1,700.5 398.0,698.3 399.0,696.0 399.9,693.7 400.8,691.4 401.7,689.1 402.6,686.8 403.5,684.5 404.4,682.2 405.3,679.9 406.1,677.6 407.0,675.3 407.8,673.0 408.6,670.7 409.5,668.3 410.3,666.0 411.1,663.7 411.9,661.3 412.7,659.0 413.4,656.7 414.2,654.3 415.0,652.0 415.7,649.6 416.4,647.3 417.2,644.9 417.9,642.6 418.6,640.2 419.3,637.8 420.0,635.5 420.7,633.1 421.4,630.7 422.1,628.3 422.7,625.9 423.4,623.6 424.0,621.2 424.7,618.8 425.3,616.4 425.9,614.0 426.5,611.6 427.1,609.2 427.7,606.8 428.3,604.4 428.9,602.0 429.5,599.6 430.1,597.2 430.6,594.7 431.2,592.3 431.7,589.9 432.3,587.5 432.8,585.0 433.3,582.6 433.9,580.2 434.4,577.7 434.9,575.3 435.4,572.9 435.9,570.4 436.4,568.0 436.8,565.5 437.3,563.1 437.8,560.6 438.2,558.2 438.7,555.7 439.1,553.3 439.6,550.8 440.0,548.4 440.5,545.9 440.9,543.5 441.3,541.0 441.7,538.5 442.1,536.1 442.5,533.6 442.9,531.1 443.3,528.6 443.7,526.2 444.1,523.7 444.5,521.2 444.8,518.7 445.2,516.2 445.6,513.8 445.9,511.3 446.3,508.8 446.6,506.3 447.0,503.8 447.3,501.3 447.7,498.8 448.0,496.3 448.3,493.9 448.6,491.4 448.9,488.9 449.3,486.4 449.6,483.9 449.9,481.4 450.2,478.9 450.5,476.4 450.8,473.9 451.0,471.4 451.3,468.9 451.6,466.4 451.9,463.9 452.2,461.3 452.4,458.8 452.7,456.3 453.0,453.8 453.2,451.3 453.5,448.8 453.7,446.3 454.0,443.8 454.2,441.3 454.5,438.8 454.7,436.2 455.0,433.7 455.2,431.2 455.4,428.7 455.7,426.2 455.9,423.7 456.1,421.2 456.4,418.6 456.6,416.1 456.8,413.6 457.0,411.1 457.3,408.6 457.5,406.1 457.7,403.5 457.9,401.0 458.1,398.5 458.3,396.0 458.5,393.5 458.7,391.0 458.9,388.4 459.1,385.9 459.3,383.4 459.5,380.9 459.7,378.4 459.9,375.9 460.1,373.3 460.3,370.8 460.5,368.3 460.7,365.8 460.9,363.3 461.1,360.8 461.3,358.3 461.5,355.7 461.7,353.2 461.9,350.7 462.1,348.2 462.3,345.7 462.5,343.2 462.6,340.7 462.8,338.2 463.0,335.7 463.2,333.2 463.4,330.6 463.6,328.1 463.8,325.6 464.0,323.1 464.2,320.6 464.4,318.1 464.6,315.6 464.8,313.1 465.0,310.6 465.2,308.1 465.4,305.6 465.6,303.1 465.8,300.6 466.0,298.2 466.2,295.7 466.4,293.2 466.6,290.7 466.8,288.2 467.0,285.7 467.2,283.2 467.4,280.7 467.6,278.3 467.8,275.8 468.0,273.3 468.3,270.8 468.5,268.4 468.7,265.9 468.9,263.4 469.1,260.9 469.4,258.5 469.6,256.0 469.8,253.5 470.1,251.1 470.3,248.6 470.5,246.1 470.8,243.7 471.0,241.2 471.3,238.8 471.5,236.3 471.8,233.9 472.1,231.4 472.3,229.0 472.6,226.5 472.8,224.1 473.1,221.7 473.4,219.2 473.7,216.8 473.9,214.4 474.2,211.9 474.5,209.7" fill="none" stroke="#00dc08" stroke-width="8.5" stroke-linecap="round" stroke-linejoin="round"/>
</g>
<text transform="translate(157.68,1056.29) scale(0.3768,0.4085)" font-family="'Liberation Sans', sans-serif" font-weight="bold" font-size="100" fill="#000">0.0</text>
<text transform="translate(157.69,915.89) scale(0.3740,0.4085)" font-family="'Liberation Sans', sans-serif" font-weight="bold" font-size="100" fill="#000">0.5</text>
<text transform="translate(156.70,778.29) scale(0.3841,0.4085)" font-family="'Liberation Sans', sans-serif" font-weight="bold" font-size="100" fill="#000">1.0</text>
<text transform="translate(156.71,639.59) scale(0.3811,0.4143)" font-family="'Liberation Sans', sans-serif" font-weight="bold" font-size="100" fill="#000">1.5</text>
<text transform="translate(157.87,501.49) scale(0.3754,0.4085)" font-family="'Liberation Sans', sans-serif" font-weight="bold" font-size="100" fill="#000">2.0</text>
<text transform="translate(157.88,363.39) scale(0.3726,0.4085)" font-family="'Liberation Sans', sans-serif" font-weight="bold" font-size="100" fill="#000">2.5</text>
<text transform="translate(158.25,224.49) scale(0.3726,0.4085)" font-family="'Liberation Sans', sans-serif" font-weight="bold" font-size="100" fill="#000">3.0</text>
<text transform="translate(158.26,85.49) scale(0.3698,0.4085)" font-family="'Liberation Sans', sans-serif" font-weight="bold" font-size="100" fill="#000">3.5</text>
<text transform="translate(234.66,1112.59) scale(0.3258,0.4085)" font-family="'Liberation Sans', sans-serif" font-weight="bold" font-size="100" fill="#000">0</text>
<text transform="translate(566.12,1112.59) scale(0.3595,0.4085)" font-family="'Liberation Sans', sans-serif" font-weight="bold" font-size="100" fill="#000">500</text>
<text transform="translate(906.02,1112.59) scale(0.3806,0.4085)" font-family="'Liberation Sans', sans-serif" font-weight="bold" font-size="100" fill="#000">1000</text>
<text transform="translate(1256.95,1112.59) scale(0.3918,0.4085)" font-family="'Liberation Sans', sans-serif" font-weight="bold" font-size="100" fill="#000">1500</text>
<text transform="translate(1609.25,1112.59) scale(0.3845,0.4085)" font-family="'Liberation Sans', sans-serif" font-weight="bold" font-size="100" fill="#000">2000</text>
<line x1="1129.5" y1="318.4" x2="1216" y2="318.4" stroke="#000" stroke-width="8.4" stroke-linecap="round"/>
<line x1="1129.5" y1="372.0" x2="1216" y2="372.0" stroke="#e80008" stroke-width="8.4" stroke-linecap="round"/>
<line x1="1129.5" y1="425.7" x2="1216" y2="425.7" stroke="#0808b4" stroke-width="8.4" stroke-linecap="round"/>
<line x1="1129.5" y1="479.3" x2="1216" y2="479.3" stroke="#00dc08" stroke-width="8.4" stroke-linecap="round"/>
<text x="1240.47" y="331.70" font-family="'Liberation Sans', sans-serif" font-weight="bold" font-size="38.85" fill="#000">1<tspan font-size="21.7" dy="-19.0">st</tspan><tspan dy="19.0" dx="1.6"> Cycle</tspan></text>
<text x="1240.47" y="385.30" font-family="'Liberation Sans', sans-serif" font-weight="bold" font-size="38.85" fill="#000">10<tspan font-size="21.7" dy="-19.0">th</tspan><tspan dy="19.0" dx="1.6"> Cycle</tspan></text>
<text x="1241.63" y="439.00" font-family="'Liberation Sans', sans-serif" font-weight="bold" font-size="38.85" fill="#000">50<tspan font-size="21.7" dy="-19.0">th</tspan><tspan dy="19.0" dx="1.6"> Cycle</tspan></text>
<text x="1240.47" y="492.60" font-family="'Liberation Sans', sans-serif" font-weight="bold" font-size="38.85" fill="#000">100<tspan font-size="21.7" dy="-19.0">th</tspan><tspan dy="19.0" dx="1.6"> Cycle</tspan></text>
<text font-family="'Liberation Sans', sans-serif" font-weight="bold" font-size="20" fill="#000"><tspan x="585.85" y="1224.60" font-size="65.80" textLength="30.76" lengthAdjust="spacingAndGlyphs" stroke="#000" stroke-width="1.6" stroke-linejoin="round">S</tspan><tspan x="618.44" y="1224.60" font-size="63.30" textLength="37.26" lengthAdjust="spacingAndGlyphs" stroke="#000" stroke-width="0.23" stroke-linejoin="round">p</tspan><tspan x="657.11" y="1224.60" font-size="63.30" textLength="34.84" lengthAdjust="spacingAndGlyphs" stroke="#000" stroke-width="0.06" stroke-linejoin="round">e</tspan><tspan x="693.63" y="1224.60" font-size="63.30" textLength="28.09" lengthAdjust="spacingAndGlyphs" stroke="#000" stroke-width="1.52" stroke-linejoin="round">c</tspan><tspan x="723.51" y="1224.60" font-size="63.30" textLength="18.78" lengthAdjust="spacingAndGlyphs">i</tspan><tspan x="741.30" y="1224.60" font-size="63.30" textLength="22.27" lengthAdjust="spacingAndGlyphs">f</tspan><tspan x="764.71" y="1224.60" font-size="63.30" textLength="18.78" lengthAdjust="spacingAndGlyphs">i</tspan><tspan x="782.48" y="1224.60" font-size="63.30" textLength="28.87" lengthAdjust="spacingAndGlyphs" stroke="#000" stroke-width="1.32" stroke-linejoin="round">c</tspan> <tspan x="829.07" y="1224.60" font-size="63.30" textLength="27.53" lengthAdjust="spacingAndGlyphs" stroke="#000" stroke-width="1.6" stroke-linejoin="round">c</tspan><tspan x="861.02" y="1224.60" font-size="63.30" textLength="28.43" lengthAdjust="spacingAndGlyphs" stroke="#000" stroke-width="1.43" stroke-linejoin="round">a</tspan><tspan x="895.06" y="1224.60" font-size="63.30" textLength="37.98" lengthAdjust="spacingAndGlyphs" stroke="#000" stroke-width="0.11" stroke-linejoin="round">p</tspan><tspan x="935.42" y="1224.60" font-size="63.30" textLength="28.43" lengthAdjust="spacingAndGlyphs" stroke="#000" stroke-width="1.43" stroke-linejoin="round">a</tspan><tspan x="971.82" y="1224.60" font-size="63.30" textLength="26.74" lengthAdjust="spacingAndGlyphs" stroke="#000" stroke-width="1.6" stroke-linejoin="round">c</tspan><tspan x="1000.84" y="1224.60" font-size="63.30" textLength="18.20" lengthAdjust="spacingAndGlyphs">i</tspan><tspan x="1018.77" y="1224.60" font-size="63.30" textLength="21.14" lengthAdjust="spacingAndGlyphs">t</tspan><tspan x="1042.41" y="1224.60" font-size="63.30" textLength="32.36" lengthAdjust="spacingAndGlyphs" stroke="#000" stroke-width="0.53" stroke-linejoin="round">y</tspan> <tspan x="1092.93" y="1223.84" font-size="66.95" textLength="14.58" lengthAdjust="spacingAndGlyphs" stroke="#000" stroke-width="1.0" stroke-linejoin="round">(</tspan><tspan x="1111.41" y="1224.60" font-size="63.30" textLength="57.30" lengthAdjust="spacingAndGlyphs">m</tspan><tspan x="1169.21" y="1224.60" font-size="65.80" textLength="42.80" lengthAdjust="spacingAndGlyphs" stroke="#000" stroke-width="0.66" stroke-linejoin="round">A</tspan><tspan x="1213.01" y="1224.60" font-size="63.30" textLength="37.53" lengthAdjust="spacingAndGlyphs" stroke="#000" stroke-width="0.18" stroke-linejoin="round">h</tspan><tspan x="1249.88" y="1224.60" font-size="63.30" textLength="37.01" lengthAdjust="spacingAndGlyphs" stroke="#000" stroke-width="0.27" stroke-linejoin="round">g</tspan><tspan x="1283.64" y="1204.45" font-size="50.00" textLength="14.65" lengthAdjust="spacingAndGlyphs" font-family="'Liberation Sans', sans-serif" font-weight="normal">-</tspan><tspan x="1297.41" y="1202.20" font-size="44.85" textLength="23.03" lengthAdjust="spacingAndGlyphs" font-family="'Liberation Mono', monospace" font-weight="bold">1</tspan><tspan x="1328.40" y="1223.84" font-size="66.95" textLength="13.32" lengthAdjust="spacingAndGlyphs" stroke="#000" stroke-width="1.0" stroke-linejoin="round">)</tspan></text>
<text transform="translate(95.6,887.0) rotate(-90)" font-family="'Liberation Sans', sans-serif" font-weight="bold" font-size="20" fill="#000"><tspan x="-3.49" y="0.00" font-size="65.80" textLength="36.86" lengthAdjust="spacingAndGlyphs" stroke="#000" stroke-width="1.14" stroke-linejoin="round">P</tspan><tspan x="35.93" y="0.00" font-size="63.30" textLength="34.39" lengthAdjust="spacingAndGlyphs" stroke="#000" stroke-width="0.75" stroke-linejoin="round">o</tspan><tspan x="70.77" y="0.00" font-size="63.30" textLength="21.14" lengthAdjust="spacingAndGlyphs">t</tspan><tspan x="94.57" y="0.00" font-size="63.30" textLength="32.23" lengthAdjust="spacingAndGlyphs" stroke="#000" stroke-width="0.55" stroke-linejoin="round">e</tspan><tspan x="128.51" y="0.00" font-size="63.30" textLength="35.64" lengthAdjust="spacingAndGlyphs" stroke="#000" stroke-width="0.51" stroke-linejoin="round">n</tspan><tspan x="165.17" y="0.00" font-size="63.30" textLength="21.14" lengthAdjust="spacingAndGlyphs">t</tspan><tspan x="190.90" y="0.00" font-size="63.30" textLength="18.39" lengthAdjust="spacingAndGlyphs">i</tspan><tspan x="213.84" y="0.00" font-size="63.30" textLength="28.12" lengthAdjust="spacingAndGlyphs" stroke="#000" stroke-width="1.51" stroke-linejoin="round">a</tspan><tspan x="246.47" y="0.00" font-size="63.30" textLength="17.24" lengthAdjust="spacingAndGlyphs" stroke="#000" stroke-width="0.12" stroke-linejoin="round">l</tspan> <tspan x="285.59" y="-1.86" font-size="65.03" textLength="14.12" lengthAdjust="spacingAndGlyphs" stroke="#000" stroke-width="1.0" stroke-linejoin="round">(</tspan><tspan x="302.47" y="0.00" font-size="65.80" textLength="43.86" lengthAdjust="spacingAndGlyphs">V</tspan><tspan x="306.73" y="19.73" font-size="27.54" textLength="14.82" lengthAdjust="spacingAndGlyphs">,</tspan> <tspan x="364.80" y="0.00" font-size="63.30" textLength="30.76" lengthAdjust="spacingAndGlyphs" stroke="#000" stroke-width="0.87" stroke-linejoin="round">v</tspan><tspan x="399.55" y="0.00" font-size="63.30" textLength="24.65" lengthAdjust="spacingAndGlyphs" stroke="#000" stroke-width="1.6" stroke-linejoin="round">s</tspan> <tspan x="443.76" y="0.00" font-size="65.80" textLength="28.55" lengthAdjust="spacingAndGlyphs" stroke="#000" stroke-width="1.6" stroke-linejoin="round">L</tspan><tspan x="473.70" y="0.00" font-size="63.30" textLength="16.67" lengthAdjust="spacingAndGlyphs" stroke="#000" stroke-width="0.33" stroke-linejoin="round">i</tspan><tspan x="490.33" y="-19.75" font-size="47.27" textLength="26.82" lengthAdjust="spacingAndGlyphs" font-family="'Liberation Sans', sans-serif" font-weight="normal" stroke="#000" stroke-width="0.9" stroke-linejoin="round">+</tspan><tspan x="513.80" y="8.74" font-size="84.05" textLength="29.97" lengthAdjust="spacingAndGlyphs" font-family="'Liberation Sans', sans-serif" font-weight="normal">/</tspan><tspan x="547.26" y="0.00" font-size="65.80" textLength="28.55" lengthAdjust="spacingAndGlyphs" stroke="#000" stroke-width="1.6" stroke-linejoin="round">L</tspan><tspan x="576.67" y="0.00" font-size="63.30" textLength="17.24" lengthAdjust="spacingAndGlyphs" stroke="#000" stroke-width="0.12" stroke-linejoin="round">i</tspan><tspan x="598.00" y="-1.86" font-size="65.03" textLength="13.90" lengthAdjust="spacingAndGlyphs" stroke="#000" stroke-width="1.0" stroke-linejoin="round">)</tspan><tspan x="614.56" y="19.74" font-size="24.92" textLength="15.56" lengthAdjust="spacingAndGlyphs">,</tspan></text>
<text font-family="'Liberation Serif', serif" font-weight="normal" font-size="20" fill="#000"><tspan x="814.52" y="1377.21" font-size="84.62" textLength="24.00" lengthAdjust="spacingAndGlyphs">(</tspan><tspan x="840.55" y="1376.90" font-size="90.15" textLength="63.38" lengthAdjust="spacingAndGlyphs" font-family="'Liberation Serif', serif" font-weight="bold">C</tspan><tspan x="901.30" y="1377.21" font-size="84.62" textLength="24.46" lengthAdjust="spacingAndGlyphs">)</tspan></text>
</g>
</svg>
</body></html>
